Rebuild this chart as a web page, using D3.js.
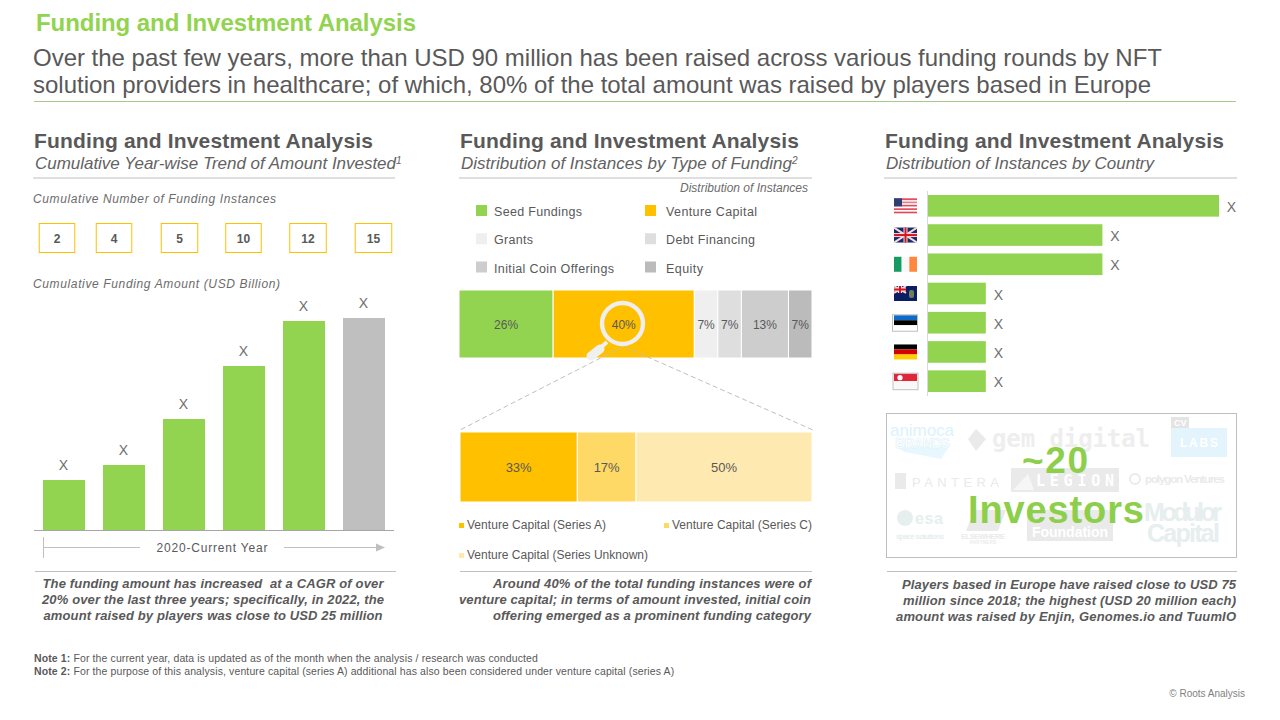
<!DOCTYPE html>
<html>
<head>
<meta charset="utf-8">
<script src="https://cdn.jsdelivr.net/npm/d3@7"></script>
<style>
  html, body { margin: 0; padding: 0; background: #fff; }
  svg { display: block; }
  text { font-family: "Liberation Sans", Arial, sans-serif; fill: #595959; white-space: pre; }
</style>
</head>
<body>
<svg id="canvas" width="1280" height="720"></svg>
<script>
// left panel
let periods = ['P1', 'P2', 'P3', 'P4', 'P5', 'P6']
let instanceCounts = [2, 4, 5, 10, 12, 15]
let amounts = [50, 65, 111, 164, 209, 212]
let amountLabels = ['X', 'X', 'X', 'X', 'X', 'X']

// middle panel
let fundingTypes = ['Seed Fundings', 'Venture Capital', 'Grants', 'Debt Financing', 'Initial Coin Offerings', 'Equity']
let fundingCounts = [4, 6, 1, 1, 2, 1]
let fundingLabels = ['26%', '40%', '7%', '7%', '13%', '7%']
let ventureTypes = ['Venture Capital (Series A)', 'Venture Capital (Series C)', 'Venture Capital (Series Unknown)']
let ventureCounts = [2, 1, 3]
let ventureLabels = ['33%', '17%', '50%']

// right panel
let countries = ['US', 'UK', 'IE', 'VG', 'EE', 'DE', 'SG']
let countryCounts = [5, 3, 3, 1, 1, 1, 1]

const green = '#92D350'
const amber = '#FFC000'
const fundingColors = [green, amber, '#EFEFEF', '#DEDEDE', '#CDCDCD', '#BBBBBB']
const ventureColors = [amber, '#FFD966', '#FEEAB0']

const canvas = d3.select('#canvas')

let label = (x, y, str, size, opts = {}) => {
  let t = canvas.append('text')
    .attr('x', x)
    .attr('y', y)
    .attr('font-size', size)
    .attr('text-anchor', opts.anchor || 'start')
    .attr('font-weight', opts.bold ? 'bold' : 'normal')
    .attr('font-style', opts.italic ? 'italic' : 'normal')
    .text(str)
  if (opts.fill) t.style('fill', opts.fill)
  if (opts.width) t.attr('textLength', opts.width).attr('lengthAdjust', 'spacing')
  return t
}

let rule = (x1, x2, y, color) => {
  canvas.append('line')
    .attr('x1', x1).attr('x2', x2).attr('y1', y).attr('y2', y)
    .attr('stroke', color || '#BFBFBF')
}

// slide heading
label(36, 31, 'Funding and Investment Analysis', 24, { bold: true, fill: green, width: 380 })
label(33, 66, 'Over the past few years, more than USD 90 million has been raised across various funding rounds by NFT', 24, { width: 1129 })
label(33, 93, 'solution providers in healthcare; of which, 80% of the total amount was raised by players based in Europe', 24, { width: 1118 })
rule(34, 1236, 101.5, '#A9C98A')

// panel headings
let panelHead = (x, lineEnd, sub, note, subWidth) => {
  label(x, 148, 'Funding and Investment Analysis', 21, { bold: true, width: 339 })
  label(x + 1, 169, sub, 17, { italic: true, fill: '#626262', width: subWidth })
  if (note) {
    label(x + 1 + subWidth, 164, note, 10, { italic: true, fill: '#626262' })
  }
  rule(x - 1, lineEnd, 178)
}
panelHead(34, 395, 'Cumulative Year-wise Trend of Amount Invested', '1', 361)
panelHead(460, 812, 'Distribution of Instances by Type of Funding', '2', 331)
panelHead(885, 1237, 'Distribution of Instances by Country', null, 268)

// ---- left panel ----
label(33, 203, 'Cumulative Number of Funding Instances', 12, { italic: true, fill: '#6B6B6B', width: 243 })
label(33, 288, 'Cumulative Funding Amount (USD Billion)', 12, { italic: true, fill: '#6B6B6B', width: 247 })

// boxes were placed by hand in the original, so they do not sit on the bars
let boxX = d3.scaleOrdinal().domain(periods).range([57, 114, 179.5, 243.5, 308, 373.5])

periods.forEach((p, i) => {
  let wide = instanceCounts[i] === 5 || instanceCounts[i] >= 12 ? 36.5 : 35.5
  canvas.append('rect')
    .attr('x', boxX(p) - wide / 2)
    .attr('y', 223.5)
    .attr('width', wide)
    .attr('height', 29)
    .attr('fill', '#fff')
    .attr('stroke', amber)
  label(boxX(p), 243, instanceCounts[i], 12, { anchor: 'middle', bold: true })
})

let x = d3.scaleBand().domain(periods).range([43, 385]).paddingInner(0.3).paddingOuter(0)
let y = d3.scaleLinear().domain([0, 240]).range([530, 290])

canvas.selectAll('.amount')
  .data(amounts)
  .enter()
  .append('rect')
  .attr('class', 'amount')
  .attr('x', (d, i) => x(periods[i]))
  .attr('y', d => y(d))
  .attr('width', x.bandwidth())
  .attr('height', d => y(0) - y(d))
  .attr('fill', (d, i) => i === amounts.length - 1 ? '#BFBFBF' : green)

canvas.selectAll('.amount-label')
  .data(amounts)
  .enter()
  .append('text')
  .attr('class', 'amount-label')
  .attr('x', (d, i) => x(periods[i]) + x.bandwidth() / 2 - 0.5)
  .attr('y', d => y(d) - 10)
  .attr('font-size', 14)
  .attr('text-anchor', 'middle')
  .style('fill', '#6E6E6E')
  .text((d, i) => amountLabels[i])

rule(34, 394, 530.5, '#A6A6A6')

canvas.append('line').attr('x1', 43.5).attr('x2', 43.5).attr('y1', 537).attr('y2', 558).attr('stroke', '#BFBFBF')
rule(44, 140, 547.5)
rule(284, 379, 547.5)
canvas.append('path').attr('d', 'M376,543.5L385,547.5L376,551.5Z').attr('fill', '#BFBFBF')
label(212, 552, '2020-Current Year', 12, { anchor: 'middle', width: 111 })

rule(35, 396, 571.5)
let take1 = ['The funding amount has increased  at a CAGR of over', '20% over the last three years; specifically, in 2022, the', 'amount raised by players was close to USD 25 million']
take1.forEach((s, i) => label(213, 588 + i * 16, s, 13, { bold: true, italic: true, anchor: 'middle', width: [341, 342, 339][i] }))

// ---- middle panel ----
label(808, 192, 'Distribution of Instances', 12, { italic: true, anchor: 'end', fill: '#6B6B6B', width: 128 })

let legendX = d3.scalePoint().domain([0, 1]).range([476, 645])
let legendY = d3.scalePoint().domain([0, 1, 2]).range([205, 261.5])

fundingTypes.forEach((name, i) => {
  let col = i % 2
  let row = Math.floor(i / 2)
  canvas.append('rect')
    .attr('x', legendX(col))
    .attr('y', legendY(row))
    .attr('width', 11)
    .attr('height', 11)
    .attr('fill', fundingColors[i])
  let widths = [88, 91, 39, 89, 120, 37]
  label(legendX(col) + (col ? 21 : 18), legendY(row) + 11, name, 12.5, { width: widths[i] })
})

let stacked = (values) => {
  let total = 0
  return values.map(v => {
    let d = { start: total, end: total + v }
    total += v
    return d
  })
}

let drawStack = (values, labels, colors, x0, x1, top, bottom, size) => {
  let scale = d3.scaleLinear().domain([0, d3.sum(values)]).range([x0, x1])
  let parts = stacked(values)
  canvas.append('g')
    .selectAll('rect')
    .data(parts)
    .enter()
    .append('rect')
    .attr('x', d => scale(d.start))
    .attr('y', top)
    .attr('width', d => scale(d.end) - scale(d.start))
    .attr('height', bottom - top)
    .attr('fill', (d, i) => colors[i])
    .attr('stroke', '#fff')
    .attr('stroke-width', 1)
  return () => {
    canvas.append('g')
      .selectAll('text')
      .data(parts)
      .enter()
      .append('text')
      .attr('x', d => (scale(d.start) + scale(d.end)) / 2)
      .attr('y', (top + bottom) / 2 + 4.5)
      .attr('font-size', size)
      .attr('text-anchor', 'middle')
      .text((d, i) => labels[i])
  }
}

let fundingText = drawStack(fundingCounts, fundingLabels, fundingColors, 459, 812, 290, 358, 12)
let ventureText = drawStack(ventureCounts, ventureLabels, ventureColors, 460, 812, 432, 502, 13)

// dashed zoom lines
canvas.append('line').attr('x1', 622).attr('y1', 347).attr('x2', 460).attr('y2', 430)
  .attr('stroke', '#BFBFBF').attr('stroke-dasharray', '5 3')
canvas.append('line').attr('x1', 625).attr('y1', 347).attr('x2', 813).attr('y2', 430)
  .attr('stroke', '#BFBFBF').attr('stroke-dasharray', '5 3')

// magnifier
canvas.append('line').attr('x1', 607).attr('y1', 342).attr('x2', 598).attr('y2', 350)
  .attr('stroke', '#F0F0F0').attr('stroke-width', 4)
canvas.append('line').attr('x1', 600).attr('y1', 349).attr('x2', 591).attr('y2', 356)
  .attr('stroke', '#F0F0F0').attr('stroke-width', 9).attr('stroke-linecap', 'round')
canvas.append('circle').attr('cx', 622.5).attr('cy', 323.5).attr('r', 20.5)
  .attr('fill', 'none').attr('stroke', '#EFEFEF').attr('stroke-width', 4.4)

fundingText()
ventureText()

let smallLegend = [[459, 525], [664, 525], [459, 555]]
ventureTypes.forEach((name, i) => {
  canvas.append('rect')
    .attr('x', smallLegend[i][0])
    .attr('y', smallLegend[i][1] - 2)
    .attr('width', 5)
    .attr('height', 5)
    .attr('fill', ventureColors[i])
  label(smallLegend[i][0] + 8, smallLegend[i][1] + 4, name, 12, { width: [139, 140, 181][i] })
})

rule(460, 812, 571.5)
let take2 = ['Around 40% of the total funding instances were of', 'venture capital; in terms of amount invested, initial coin', 'offering emerged as a prominent funding category']
take2.forEach((s, i) => label(811, 588 + i * 16, s, 13, { bold: true, italic: true, anchor: 'end', width: [318, 352, 318][i] }))

// ---- right panel ----
let cy = d3.scaleBand().domain(countries).range([195, 392]).paddingInner(0.26).paddingOuter(0)
let cx = d3.scaleLinear().domain([0, 5]).range([927.5, 1219])

canvas.selectAll('.country')
  .data(countryCounts)
  .enter()
  .append('rect')
  .attr('class', 'country')
  .attr('x', cx(0))
  .attr('y', (d, i) => cy(countries[i]))
  .attr('width', d => cx(d) - cx(0))
  .attr('height', cy.bandwidth())
  .attr('fill', green)

canvas.selectAll('.country-label')
  .data(countryCounts)
  .enter()
  .append('text')
  .attr('class', 'country-label')
  .attr('x', d => cx(d) + 12.5)
  .attr('y', (d, i) => cy(countries[i]) + cy.bandwidth() / 2 + 6)
  .attr('font-size', 14)
  .attr('text-anchor', 'middle')
  .style('fill', '#6E6E6E')
  .text('X')

canvas.append('line').attr('x1', 927.5).attr('x2', 927.5).attr('y1', 191).attr('y2', 396).attr('stroke', '#D9D9D9')

// flags, drawn in a 23 x 15 box
let bands = (g, cols, horizontal) => {
  cols.forEach((c, i) => {
    g.append('rect')
      .attr('x', horizontal ? 0 : i * 23 / cols.length)
      .attr('y', horizontal ? i * 15 / cols.length : 0)
      .attr('width', horizontal ? 23 : 23 / cols.length)
      .attr('height', horizontal ? 15 / cols.length : 15)
      .attr('fill', c)
  })
}

let union = (g, w, h) => {
  g.append('rect').attr('width', w).attr('height', h).attr('fill', '#1B2A6B')
  let s = g.append('g').attr('stroke', '#F4D9DE')
  s.append('line').attr('x2', w).attr('y2', h).attr('stroke-width', 2)
  s.append('line').attr('y1', h).attr('x2', w).attr('stroke-width', 2)
  s.append('line').attr('x1', w / 2).attr('x2', w / 2).attr('y2', h).attr('stroke-width', 4)
  s.append('line').attr('y1', h / 2).attr('x2', w).attr('y2', h / 2).attr('stroke-width', 4)
  let r = g.append('g').attr('stroke', '#D5141E')
  r.append('line').attr('x1', w / 2).attr('x2', w / 2).attr('y2', h).attr('stroke-width', 2)
  r.append('line').attr('y1', h / 2).attr('x2', w).attr('y2', h / 2).attr('stroke-width', 2)
}

let flags = {
  US: g => {
    bands(g, ['#E04A5A', '#F8E4E6', '#E87C88', '#F8E4E6', '#E04A5A', '#fff', '#E04A5A', '#fff', '#E04A5A'], true)
    g.append('rect').attr('width', 8).attr('height', 8).attr('fill', '#2E3F75')
  },
  UK: g => union(g, 23, 15),
  IE: g => bands(g, ['#169B62', '#F8F8F8', '#FF883E'], false),
  VG: g => {
    g.append('rect').attr('width', 23).attr('height', 15).attr('fill', '#0A1F63')
    union(g, 12, 7)
    g.append('rect').attr('x', 15).attr('y', 4).attr('width', 5).attr('height', 8).attr('rx', 2).attr('fill', '#6F7F5A')
  },
  EE: g => {
    bands(g, ['#0D6BCB', '#000', '#fff'], true)
    g.append('rect').attr('x', -1.5).attr('y', -0.5).attr('width', 25).attr('height', 16.5).attr('fill', 'none').attr('stroke', '#BFBFBF')
  },
  DE: g => bands(g, ['#000', '#D50000', '#FFCE00'], true),
  SG: g => {
    bands(g, ['#E0263A', '#F8F8F8'], true)
    g.append('circle').attr('cx', 6).attr('cy', 4).attr('r', 2.6).attr('fill', '#fff')
    g.append('rect').attr('x', -1).attr('y', -0.5).attr('width', 25).attr('height', 16.5).attr('fill', 'none').attr('stroke', '#BFBFBF')
  }
}

countries.forEach(c => {
  let g = canvas.append('g')
    .attr('transform', `translate(894,${cy(c) + cy.bandwidth() / 2 - 7.5})`)
  flags[c](g)
})

// investor logo panel, faded out behind the big number
canvas.append('rect').attr('x', 886.5).attr('y', 413.5).attr('width', 350).attr('height', 144)
  .attr('fill', '#fff').attr('stroke', '#BFBFBF')

const blue = '#DCF2FB'
const fade = '#EAEAEA'
const fadeBlue = '#E6EEEE'

canvas.append('path').attr('d', 'M896,447L950,445L941,459L905,452Z').attr('fill', '#E8F7FD')
label(890, 436, 'animoca', 17, { fill: blue, width: 64 })
label(895, 448, 'BRANDS', 14, { bold: true, fill: '#fff', width: 55 }).attr('stroke', blue).attr('stroke-width', 0.6)

canvas.append('path').attr('d', 'M976,429L986,439L976,451L968,439Z').attr('fill', fade)
label(992, 447, 'gem digital', 24, { bold: true, fill: '#EEEEEE', width: 158 }).style('font-family', '"DejaVu Sans Mono", monospace')

canvas.append('rect').attr('x', 1171).attr('y', 417).attr('width', 18).attr('height', 11).attr('fill', '#E4E4E4')
label(1174, 426, 'CV', 9, { bold: true, fill: '#fff' })
canvas.append('rect').attr('x', 1171).attr('y', 428).attr('width', 56).attr('height', 29).attr('fill', '#E3F4FC')
label(1180, 447, 'LABS', 12, { bold: true, fill: '#fff', width: 38 })

canvas.append('rect').attr('x', 895).attr('y', 473).attr('width', 11).attr('height', 16).attr('fill', fade)
label(912, 487, 'PANTERA', 13, { fill: fade, width: 87 })

canvas.append('rect').attr('x', 1011).attr('y', 468).attr('width', 108).attr('height', 24).attr('fill', fade)
label(1036, 486, 'LEGION', 15, { bold: true, fill: '#fff', width: 78 }).style('font-family', '"DejaVu Sans Mono", monospace')
canvas.append('path').attr('d', 'M1013,490L1028,474L1034,490Z').attr('fill', '#F6F6F6')

canvas.append('circle').attr('cx', 1135).attr('cy', 479).attr('r', 5).attr('fill', 'none').attr('stroke', fade).attr('stroke-width', 2)
label(1145, 483, 'polygon Ventures', 11.5, { bold: true, fill: fade, width: 80 })

canvas.append('circle').attr('cx', 905).attr('cy', 518).attr('r', 8).attr('fill', fadeBlue)
label(915, 524, 'esa', 16, { bold: true, fill: fadeBlue, width: 28 })
label(896, 539, 'space solutions', 7.5, { bold: true, fill: fadeBlue, width: 48 })

canvas.append('path').attr('d', 'M966,531L974,510L1006,510L998,531Z').attr('fill', fade)
label(961, 539, 'ELSEWHERE', 7.5, { bold: true, fill: fade, width: 44 })
label(970, 544, 'PARTNERS', 4.5, { bold: true, fill: fade, width: 26 })

canvas.append('rect').attr('x', 1027).attr('y', 510).attr('width', 86).attr('height', 31).attr('fill', fade)
label(1032, 537, 'Foundation', 14, { bold: true, fill: '#fff', width: 76 })

label(1144, 521, 'Modulor', 25, { bold: true, fill: fadeBlue, width: 78 })
label(1147, 542, 'Capital', 25, { bold: true, fill: fadeBlue, width: 73 })

label(1055, 473, '~20', 37, { bold: true, anchor: 'middle', fill: '#8DCF4B', width: 66 })
label(968, 523, 'Investors', 38, { bold: true, fill: '#8DCF4B', width: 176 })

rule(887, 1237, 571.5)
let take3 = ['Players based in Europe have raised close to USD 75', 'million since 2018; the highest (USD 20 million each)', 'amount was raised by Enjin, Genomes.io and TuumIO']
take3.forEach((s, i) => label(1236, 589 + i * 16, s, 13, { bold: true, italic: true, anchor: 'end', width: [334, 333, 340][i] }))

// notes
let note = (yPos, head, body) => {
  let t = label(34, yPos, null, 10.5).style('letter-spacing', '0.115px')
  t.append('tspan').attr('font-weight', 'bold').text(head)
  t.append('tspan').text(' ' + body)
}
note(662, 'Note 1:', 'For the current year, data is updated as of the month when the analysis / research was conducted')
note(675, 'Note 2:', 'For the purpose of this analysis, venture capital (series A) additional has also been considered under venture capital (series A)')

label(1245, 697, '© Roots Analysis', 10, { anchor: 'end', fill: '#7F7F7F' })
</script>
</body>
</html>
